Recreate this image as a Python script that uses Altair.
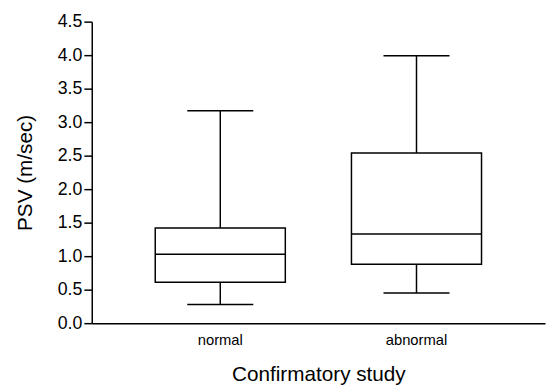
import altair as alt
import pandas as pd

groups = ["normal", "abnormal"]
mins = [0.28, 0.45]
q1s = [0.61, 0.88]
medians = [1.03, 1.33]
q3s = [1.42, 2.54]
maxs = [3.17, 3.99]
y_ticks = [0.0, 0.5, 1.0, 1.5, 2.0, 2.5, 3.0, 3.5, 4.0, 4.5]

df = pd.DataFrame({
    "group": groups,
    "min": mins,
    "q1": q1s,
    "median": medians,
    "q3": q3s,
    "max": maxs,
})

FONT = "Liberation Sans"

x_enc = alt.X(
    "group:N",
    sort=groups,
    scale=alt.Scale(paddingInner=0, paddingOuter=0.155),
    axis=alt.Axis(
        title="Confirmatory study",
        labelAngle=0,
        ticks=False,
        domainColor="black",
        domainWidth=1.5,
        labelFont=FONT,
        labelFontSize=15,
        labelColor="black",
        labelPadding=10,
        titleFont=FONT,
        titleFontSize=21,
        titleFontWeight="normal",
        titleColor="black",
        titlePadding=16,
    ),
)

y_scale = alt.Scale(domain=[0, 4.5], nice=False, zero=True)
y_axis = alt.Axis(
    title="PSV (m/sec)",
    values=y_ticks,
    format=".1f",
    grid=False,
    labelOverlap=False,
    labelBound=False,
    domainColor="black",
    domainWidth=1.5,
    tickColor="black",
    tickWidth=1.5,
    tickSize=8,
    labelFont=FONT,
    labelFontSize=18,
    labelColor="black",
    labelPadding=2,
    titleFont=FONT,
    titleFontSize=21,
    titleFontWeight="normal",
    titleColor="black",
    titlePadding=22,
)

base = alt.Chart(df).encode(x=x_enc)

whisker = base.mark_rule(color="black", strokeWidth=1.5).encode(
    y=alt.Y("min:Q", scale=y_scale, axis=y_axis),
    y2="max:Q",
)
box = base.mark_bar(size=132, fill="white", stroke="black", strokeWidth=1.5).encode(
    y=alt.Y("q1:Q", scale=y_scale, axis=y_axis),
    y2="q3:Q",
)
median = base.mark_tick(size=132, thickness=1.5, color="black", opacity=1).encode(
    y=alt.Y("median:Q", scale=y_scale, axis=y_axis),
)
cap_low = base.mark_tick(size=67, thickness=1.5, color="black", opacity=1).encode(
    y=alt.Y("min:Q", scale=y_scale, axis=y_axis),
)
cap_high = base.mark_tick(size=67, thickness=1.5, color="black", opacity=1).encode(
    y=alt.Y("max:Q", scale=y_scale, axis=y_axis),
)

chart = (
    alt.layer(whisker, box, median, cap_low, cap_high)
    .properties(
        width=460,
        height=306,
        autosize=alt.AutoSizeParams(type="none"),
        padding={"left": 85, "top": 11, "right": 1, "bottom": 67},
        background="white",
    )
    .configure_view(stroke=None)
    .configure_axis(labelOverlap=False)
)

chart.save("out.html", embed_options={"renderer": "svg", "actions": False})
